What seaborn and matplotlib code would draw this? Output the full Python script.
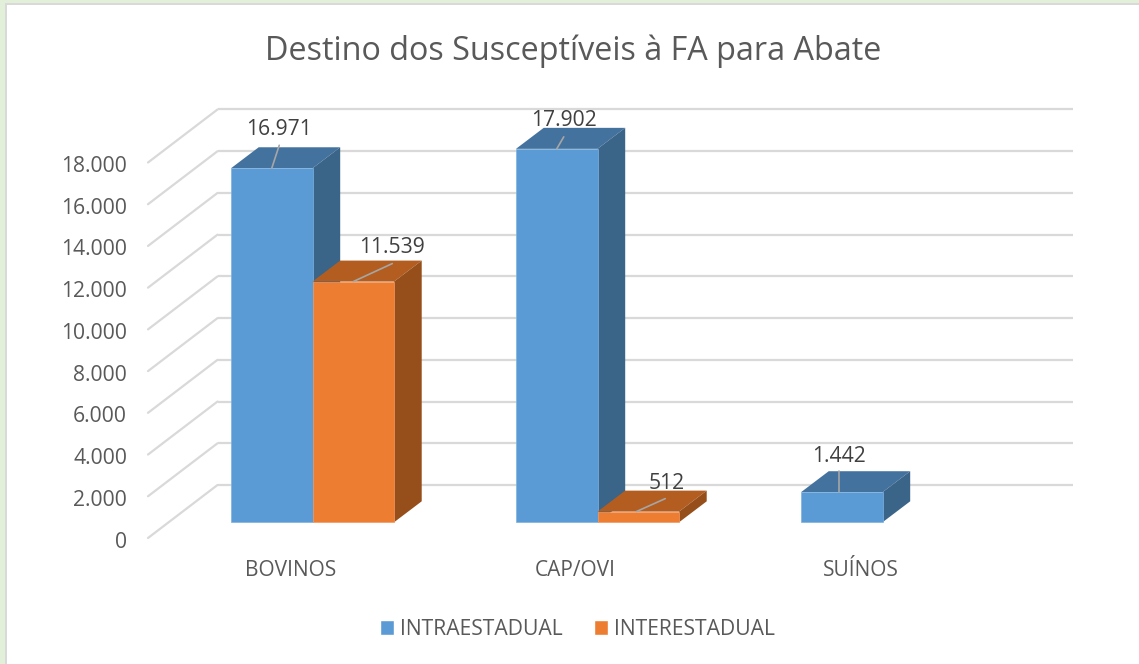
import matplotlib
matplotlib.use("Agg")
import matplotlib.pyplot as plt
from matplotlib.patches import Polygon, Rectangle
from matplotlib.transforms import Affine2D
import numpy as np
import pandas as pd
import seaborn as sns

categories = ["BOVINOS", "CAP/OVI", "SUÍNOS"]
intraestadual = [16971, 17902, 1442]
interestadual = [11539, 512, np.nan]
series_names = ["INTRAESTADUAL", "INTERESTADUAL"]
y_ticks = [0, 2000, 4000, 6000, 8000, 10000, 12000, 14000, 16000, 18000]

W, H = 1139, 664
BLUE, ORANGE = "#5B9BD5", "#ED7D31"
TOP = {BLUE: "#44729F", ORANGE: "#B35E20"}
SIDE = {BLUE: "#3A6488", ORANGE: "#964F1B"}
EDGE = {BLUE: "#7FB2E0", ORANGE: "#F09A62"}
GRID = "#D9D9D9"
FONT = "Open Sans"

sns.set_theme(style="white")
plt.rcParams["font.family"] = [FONT, "DejaVu Sans"]

fig = plt.figure(figsize=(W / 100, H / 100), dpi=100, facecolor="white")
def frect(x0, y0, x1, y1, c):
    fig.patches.append(Rectangle((x0 / W, 1 - y1 / H), (x1 - x0) / W, (y1 - y0) / H,
                                 transform=fig.transFigure, facecolor=c, edgecolor="none", zorder=-5))
frect(0, 0, W, 3.5, "#E2EFD9")
frect(0, 0, 5, H, "#E2EFD9")
frect(5, 3.5, W, 5, "#D9D9D9")
frect(5, 3.5, 7, H, "#D9D9D9")

# front plane of the 3-D box
L, R, Y0, Y18 = 148, 1003, 538, 162.5
ax = fig.add_axes([L / W, 1 - Y0 / H, (R - L) / W, (Y0 - Y18) / H])
ax.patch.set_alpha(0)

df = pd.DataFrame({
    "cat": categories * 2,
    "serie": [series_names[0]] * 3 + [series_names[1]] * 3,
    "val": intraestadual + interestadual,
})
sns.barplot(data=df, x="cat", y="val", hue="serie", order=categories, hue_order=series_names,
            palette=[BLUE, ORANGE], width=0.572, gap=0, saturation=1, ax=ax, zorder=3, errorbar=None)
ax.set_xlim(-0.5, 2.5)
ax.set_ylim(0, 18000)
px_x = (R - L) / 3
px_y = (Y0 - Y18) / 18000

# walls: back plane and left wall
wall_dx, wall_dy = 69.5 / px_x, 53 / px_y
ax.hlines([v + wall_dy for v in y_ticks], -0.5 + wall_dx, 2.5 + wall_dx, colors=GRID, lw=1.6, zorder=1,
          clip_on=False)
for v in y_ticks:
    ax.plot([-0.5, -0.5 + wall_dx], [v, v + wall_dy], color=GRID, lw=1.6, zorder=1, clip_on=False)

# bars sit part way into the depth of the box
shift_x, shift_y = 22 / px_x, 15.7 / px_y
depth_x, depth_y = 27.7 / px_x, 21 / px_y

label_off = {  # (text dx, text dy, leader dx, leader dy, leader start dx) in pixels from front-top centre
    (0, 0): (7.5, 39, 7.5, 23, 0),
    (1, 0): (39, 34, 39, 18, 0),
    (0, 1): (7, 28, 7, 12, 0),
    (1, 1): (28, 28, 27, 13, -2),
    (0, 2): (-3, 36, -3, 21, -3),
}
for s, (cont, col) in enumerate(zip(ax.containers, [BLUE, ORANGE])):
    for c, bar in enumerate(cont):
        val = bar.get_height()
        if not np.isfinite(val) or val == 0:
            continue
        bar.set_x(bar.get_x() + shift_x)
        bar.set_y(shift_y)
        bar.set_zorder(3 + s)
        bar.set_clip_on(False)
        bar.set_edgecolor(EDGE[col])
        bar.set_linewidth(0.5)
        x0, x1 = bar.get_x(), bar.get_x() + bar.get_width()
        y0, y1 = shift_y, shift_y + val
        ax.add_patch(Polygon([(x0, y1), (x1, y1), (x1 + depth_x, y1 + depth_y), (x0 + depth_x, y1 + depth_y)],
                             closed=True, facecolor=TOP[col], edgecolor="none", zorder=3 + s - 0.5, clip_on=False))
        ax.add_patch(Polygon([(x1, y0), (x1 + depth_x, y0 + depth_y), (x1 + depth_x, y1 + depth_y), (x1, y1)],
                             closed=True, facecolor=SIDE[col], edgecolor="none", zorder=3 + s - 0.5, clip_on=False))
        tx, ty, lx, ly, sx = label_off[(s, c)]
        xc = (x0 + x1) / 2
        ax.plot([xc + sx / px_x, xc + lx / px_x], [y1, y1 + ly / px_y], color="#A6A6A6", lw=1.2,
                zorder=6, clip_on=False)
        ax.annotate(f"{int(val):,}".replace(",", "."), xy=(xc, y1), xytext=(tx, ty),
                    textcoords="offset pixels", ha="center", va="center", fontsize=15.2,
                    color="#404040", zorder=7, annotation_clip=False)

ax.set_xlabel("")
ax.set_ylabel("")
ax.set_yticks(y_ticks)
ax.set_yticklabels([f"{v:,}".replace(",", ".") for v in y_ticks], fontsize=15.2, color="#595959")
ax.tick_params(axis="y", length=0, pad=15)
ax.tick_params(axis="x", length=0, pad=16, labelsize=15, labelcolor="#595959")
sns.despine(ax=ax, left=True, bottom=True)
for lab in ax.get_yticklabels():
    lab.set_transform(lab.get_transform() + Affine2D().translate(0, -1.5))

handles = [Rectangle((0, 0), 1, 1, facecolor=BLUE), Rectangle((0, 0), 1, 1, facecolor=ORANGE)]
ax.legend(handles, series_names, loc="center", bbox_to_anchor=((577.5 - L) / (R - L), (Y0 - 629.5) / (Y0 - Y18)),
          ncol=2, frameon=False, fontsize=15.2, labelcolor="#595959", handlelength=0.67, handleheight=0.67,
          handletextpad=0.29, columnspacing=1.5, borderpad=0, borderaxespad=0)

fig.text(573 / W, 1 - 51.5 / H, "Destino dos Susceptíveis à FA para Abate", ha="center", va="center",
         fontsize=23.3, color="#595959")

fig.savefig("out.png", dpi=100, facecolor=fig.get_facecolor())
